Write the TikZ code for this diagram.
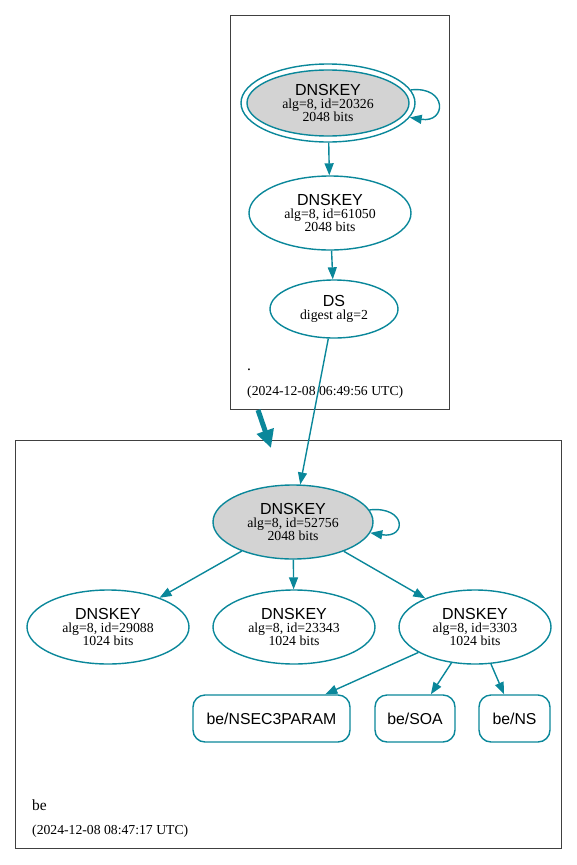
\documentclass[tikz,border=0pt]{standalone}
\usepackage{fontspec}
\setmainfont{Liberation Serif}
\setsansfont{Liberation Sans}
\usetikzlibrary{arrows.meta,shapes.geometric}
\definecolor{dv}{HTML}{0A879A}
\definecolor{kg}{HTML}{D3D3D3}
\newcommand\keytext[1]{{\sffamily\fontsize{16}{16}\selectfont DNSKEY}\\#1}
\begin{document}
\begin{tikzpicture}[x=1pt,y=-1pt,
  key/.style={ellipse, draw=dv, line width=1.4pt, inner sep=0pt, align=center, font=\fontsize{13.8}{13}\selectfont},
  ksk/.style={key, fill=kg},
  rr/.style={rectangle, rounded corners=12pt, draw=dv, line width=1.4pt, minimum height=47pt, inner sep=0pt, font=\sffamily\fontsize{15.8}{16}\selectfont},
  edge/.style={draw=dv, line width=1.4pt, -{Triangle[length=12pt,width=9pt]}},
  zone/.style={rectangle, draw=black!75, line width=0.8pt, inner sep=0pt},
  lbl/.style={anchor=base west, inner sep=0pt}
]
\useasboundingbox (0,0) rectangle (577,865);
% zones
\node[zone, minimum width=219pt, minimum height=394pt] (zroot) at (339.5,212) {};
\node[zone, minimum width=546pt, minimum height=408pt] (zbe) at (288,644) {};
% root zone
\node[ellipse, draw=dv, line width=1.4pt, minimum width=174pt, minimum height=78pt] (k1o) at (328,103) {};
\node[ksk, minimum width=162pt, minimum height=66pt] (k1) at (328,103) {\keytext{alg=8, id=20326\\2048 bits}};
\node[key, minimum width=162pt, minimum height=74pt] (k2) at (330,213) {\keytext{alg=8, id=61050\\2048 bits}};
\node[key, minimum width=128pt, minimum height=58pt] (ds) at (334,309) {{\sffamily\fontsize{16}{16}\selectfont DS}\\digest alg=2};
\node[lbl, font=\fontsize{15.5}{16}\selectfont] (rootname) at (247,370.5) {.};
\node[lbl, font=\fontsize{13.7}{14}\selectfont] (rootdate) at (247,395) {(2024-12-08 06:49:56 UTC)};
% be zone
\node[ksk, minimum width=160pt, minimum height=74pt] (b1) at (293,522) {\keytext{alg=8, id=52756\\2048 bits}};
\node[key, minimum width=162pt, minimum height=74pt] (b2) at (108,627) {\keytext{alg=8, id=29088\\1024 bits}};
\node[key, minimum width=162pt, minimum height=74pt] (b3) at (294,627) {\keytext{alg=8, id=23343\\1024 bits}};
\node[key, minimum width=152pt, minimum height=74pt] (b4) at (475,627) {\keytext{alg=8, id=3303\\1024 bits}};
\node[rr, minimum width=157pt] (r1) at (271.5,718.5) {be/NSEC3PARAM};
\node[rr, minimum width=80pt] (r2) at (415,718.5) {be/SOA};
\node[rr, minimum width=71pt] (r3) at (514.5,718.5) {be/NS};
\node[lbl, font=\fontsize{15.5}{16}\selectfont] (bename) at (32,810) {be};
\node[lbl, font=\fontsize{13.7}{14}\selectfont] (bedate) at (32,834) {(2024-12-08 08:47:17 UTC)};
% edges
\draw[edge] (k1o.9) .. controls +(37,-4) and +(37,6) .. (k1o.-10);
\draw[edge] (k1o) -- (k2);
\draw[edge] (k2) -- (ds);
\draw[edge] (ds) -- (b1);
\draw[edge] (b1.9) .. controls +(37,-4) and +(37,6) .. (b1.-8);
\draw[edge] (b1) -- (b2);
\draw[edge] (b1) -- (b3);
\draw[edge] (b1) -- (b4);
\draw[edge] (b4) -- (r1);
\draw[edge] (b4) -- (r2);
\draw[edge] (b4) -- (r3);
% delegation
\coordinate (t1) at (258,410);
\coordinate (t2) at (271,448);
\draw[draw=dv, line width=5pt, -{Triangle[length=18pt,width=17pt]}] (t1) -- (t2);
\end{tikzpicture}
\end{document}
